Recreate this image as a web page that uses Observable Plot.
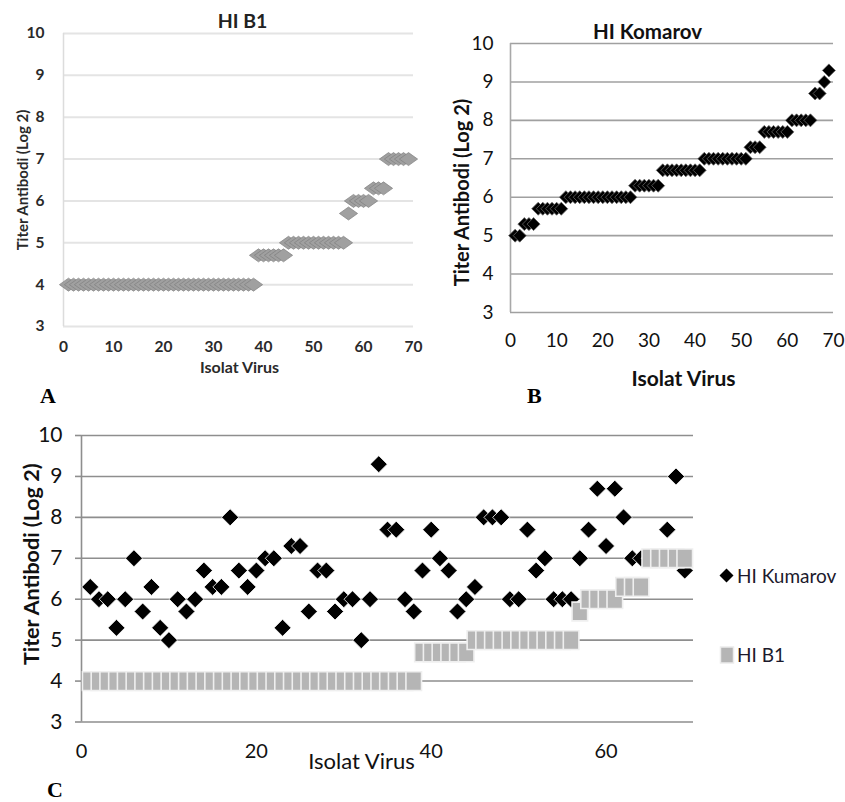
<!DOCTYPE html>
<html><head><meta charset="utf-8">
<script src="https://cdn.jsdelivr.net/npm/d3@7"></script>
<script src="https://cdn.jsdelivr.net/npm/@observablehq/plot@0.6"></script>
<style>
body{margin:0;background:#fff;width:845px;height:802px;position:relative;overflow:hidden;font-family:Lato, sans-serif;}
.panel{position:absolute;}
.panel svg{display:block;overflow:visible;}
.lab{position:absolute;font-family:"Liberation Serif",serif;font-weight:bold;font-size:22px;line-height:22px;color:#000;}
.legend{position:absolute;font-family:Lato, sans-serif;font-size:19px;color:#1c1a2c;display:flex;align-items:center;gap:2px;white-space:nowrap;}
</style></head><body>
<div id="pA" class="panel" style="left:0;top:0"></div>
<div id="pB" class="panel" style="left:440px;top:0"></div>
<div id="pC" class="panel" style="left:0;top:410px"></div>
<div class="lab" style="left:40px;top:385px">A</div>
<div class="lab" style="left:527px;top:385px">B</div>
<div class="lab" style="left:47px;top:779px">C</div>
<div class="legend" style="left:718px;top:564px"><svg width="17" height="17"><path d="M8.5,1.5L15.5,8.5L8.5,15.5L1.5,8.5Z" fill="#000"/></svg><span>HI Kumarov</span></div>
<div class="legend" style="left:719px;top:643px"><svg width="16" height="20"><rect x="1.5" y="2" width="13" height="16" fill="#b5b5b5" stroke="#ececec" stroke-width="1.5"/></svg><span>HI B1</span></div>
<script>
// ---- data ----
const yTicks = [3, 4, 5, 6, 7, 8, 9, 10];
const xTicksAB = [0, 10, 20, 30, 40, 50, 60, 70];
const xTicksC = [0, 20, 40, 60];
// HI titre (log2) against Komarov strain, per virus isolate (1..69)
const hiKomarov = [6.3,6,6,5.3,6,7,5.7,6.3,5.3,5,
                   6,5.7,6,6.7,6.3,6.3,8,6.7,6.3,6.7,
                   7,7,5.3,7.3,7.3,5.7,6.7,6.7,5.7,6,
                   6,5,6,9.3,7.7,7.7,6,5.7,6.7,7.7,
                   7,6.7,5.7,6,6.3,8,8,8,6,6,
                   7.7,6.7,7,6,6,6,7,7.7,8.7,7.3,
                   8.7,8,7,7,7,7,7.7,9,6.7];
// HI titre (log2) against B1 strain, per virus isolate (1..69)
const hiB1 = [4,4,4,4,4,4,4,4,4,4,
              4,4,4,4,4,4,4,4,4,4,
              4,4,4,4,4,4,4,4,4,4,
              4,4,4,4,4,4,4,4,
              4.7,4.7,4.7,4.7,4.7,4.7,
              5,5,5,5,5,5,5,5,5,5,5,5,
              5.7,
              6,6,6,6,
              6.3,6.3,6.3,
              7,7,7,7,7];
const komarovSorted = d3.sort(hiKomarov);

// ---- symbols ----
const diamondWide = {draw(ctx, size){const r=Math.sqrt(size/Math.PI);ctx.moveTo(-r*1.4,0);ctx.lineTo(0,-r);ctx.lineTo(r*1.4,0);ctx.lineTo(0,r);ctx.closePath();}};
const diamond = {draw(ctx, size){const r=Math.sqrt(size/Math.PI);ctx.moveTo(0,-r);ctx.lineTo(r,0);ctx.lineTo(0,r);ctx.lineTo(-r,0);ctx.closePath();}};
const square = {draw(ctx, size){const r=Math.sqrt(size/Math.PI);ctx.rect(-r,-r*1.2,2*r,2*r*1.2);}};

function shadow(svg, id, dx, dy, sd, op, blur, label){
  const s = d3.select(svg);
  const f = s.append("defs").append("filter").attr("id", id)
    .attr("x","-50%").attr("y","-50%").attr("width","200%").attr("height","200%");
  f.append("feGaussianBlur").attr("in","SourceGraphic").attr("stdDeviation",blur).attr("result","soft");
  f.append("feDropShadow").attr("in","soft").attr("dx",dx).attr("dy",dy).attr("stdDeviation",sd)
    .attr("flood-color","#000").attr("flood-opacity",op);
  s.selectAll(`g[aria-label="${label}"]`).attr("filter", `url(#${id})`);
}
const idx = (d, i) => i + 1;
const font = "Lato, sans-serif";

// ---- Panel A ----
const A = Plot.plot({
  width: 440, height: 385,
  marginLeft: 63, marginRight: 27, marginTop: 33, marginBottom: 59,
  x: {domain: [0, 70]}, y: {domain: [3, 10]},
  style: {fontFamily: font, background: "transparent", overflow: "visible"},
  marks: [
    Plot.gridY(yTicks, {stroke: "#e4e4e4", strokeOpacity: 1, strokeWidth: 2}),
    Plot.ruleX([0], {stroke: "#dcdcdc", strokeWidth: 1.5}),
    Plot.axisY(yTicks, {tickSize: 0, tickPadding: 19, fontSize: 15.5, fontWeight: "bold", fill: "#2a2a2a", label: null}),
    Plot.axisX(xTicksAB, {tickSize: 0, tickPadding: 14, fontSize: 15.5, fontWeight: "bold", fill: "#2a2a2a", label: null}),
    Plot.dot(hiB1, {x: idx, y: d => d, symbol: diamondWide, r: 6.5, fill: "#a0a0a0", stroke: "#808080", strokeWidth: 0.7, ariaLabel: "b1"}),
    Plot.text(["HI B1"], {frameAnchor: "top", lineAnchor: "middle", textAnchor: "middle", dx: 4, dy: -12, fontSize: 19.5, fontWeight: "bold", fill: "#222"}),
    Plot.text(["Titer Antibodi (Log 2)"], {frameAnchor: "left", lineAnchor: "middle", textAnchor: "middle", rotate: -90, dx: -40, fontSize: 15, fontWeight: "bold", fill: "#2a2a2a"}),
    Plot.text(["Isolat Virus"], {frameAnchor: "bottom", lineAnchor: "middle", textAnchor: "middle", dx: 1, dy: 41.5, fontSize: 16, fontWeight: "bold", fill: "#2a2a2a"})
  ]
});
document.getElementById("pA").append(A);
shadow(A, "shA", 0.3, 1, 1, 0.3, 0.4, "b1");

// ---- Panel B ----
const B = Plot.plot({
  width: 405, height: 400,
  marginLeft: 70, marginRight: 12, marginTop: 43, marginBottom: 88,
  x: {domain: [0, 70]}, y: {domain: [3, 10]},
  style: {fontFamily: font, background: "transparent", overflow: "visible"},
  marks: [
    Plot.gridY(yTicks, {stroke: "#a0a0a0", strokeOpacity: 1, strokeWidth: 1.6}),
    Plot.ruleX([0], {stroke: "#a8a8a8", strokeWidth: 1.6}),
    Plot.axisY(yTicks, {tickSize: 0, tickPadding: 17, fontSize: 19, fill: "#111", label: null}),
    Plot.axisX(xTicksAB, {tickSize: 0, tickPadding: 21, fontSize: 19, fill: "#111", label: null}),
    Plot.dot(komarovSorted, {x: idx, y: d => d, symbol: diamond, r: 6.5, fill: "#000", stroke: "#666", strokeWidth: 0.8, ariaLabel: "kom"}),
    Plot.text(["HI Komarov"], {frameAnchor: "top", lineAnchor: "middle", textAnchor: "middle", dx: -24.5, dy: -11.5, fontSize: 20.5, fontWeight: "bold", fill: "#111"}),
    Plot.text(["Titer Antibodi (Log 2)"], {frameAnchor: "left", lineAnchor: "middle", textAnchor: "middle", rotate: -90, dx: -48, dy: 14.5, fontSize: 20, fontWeight: "bold", fill: "#111"}),
    Plot.text(["Isolat Virus"], {frameAnchor: "bottom", lineAnchor: "middle", textAnchor: "middle", dx: 11.5, dy: 67, fontSize: 21, fontWeight: "bold", fill: "#111"})
  ]
});
document.getElementById("pB").append(B);
shadow(B, "shB", 0.5, 1.5, 2, 0.8, 0.6, "kom");

// ---- Panel C ----
const C = Plot.plot({
  width: 845, height: 392,
  marginLeft: 81, marginRight: 152, marginTop: 25, marginBottom: 80.5,
  x: {domain: [0, 70]}, y: {domain: [3, 10]},
  style: {fontFamily: font, background: "transparent", overflow: "visible"},
  marks: [
    Plot.gridY(yTicks, {stroke: "#8e8e8e", strokeOpacity: 1, strokeWidth: 1.6}),
    Plot.ruleX([0], {stroke: "#8e8e8e", strokeWidth: 1.6}),
    Plot.axisY(yTicks, {tickSize: 6, tickPadding: 13, stroke: "#8e8e8e", strokeWidth: 1.6, fontSize: 21, fill: "#111", label: null}),
    Plot.axisX(xTicksC, {tickSize: 0, tickPadding: 22, fontSize: 20, fill: "#111", label: null}),
    Plot.dot(hiKomarov, {x: idx, y: d => d, symbol: diamond, r: 8.5, fill: "#000", stroke: "#fff", strokeWidth: 0.8, ariaLabel: "kom"}),
    Plot.dot(hiB1, {x: idx, y: d => d, symbol: square, r: 7.8, fill: "#b5b5b5", stroke: "#efefef", strokeWidth: 1.6, ariaLabel: "b1"}),
    Plot.text(["Titer Antibodi (Log 2)"], {frameAnchor: "left", lineAnchor: "middle", textAnchor: "middle", rotate: -90, dx: -49, dy: -14.5, fontSize: 21.5, fontWeight: "bold", fill: "#111"}),
    Plot.text(["Isolat Virus"], {frameAnchor: "bottom", lineAnchor: "middle", textAnchor: "middle", dx: -26, dy: 39.5, fontSize: 22, fill: "#111"})
  ]
});
document.getElementById("pC").append(C);
shadow(C, "shCk", 0.5, 2, 2, 0.7, 0.7, "kom");
shadow(C, "shCb", 0.5, 2, 1.5, 0.45, 0.3, "b1");
</script>
</body></html>
